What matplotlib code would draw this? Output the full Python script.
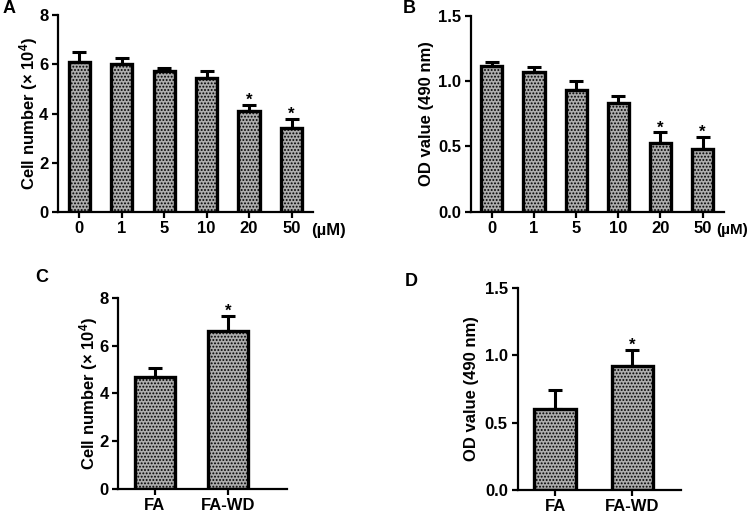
import matplotlib
matplotlib.use("Agg")
import matplotlib.pyplot as plt
import numpy as np

plt.rcParams['font.family'] = ['Liberation Sans', 'DejaVu Sans']
plt.rcParams['font.weight'] = 'bold'
plt.rcParams['mathtext.default'] = 'regular'
plt.rcParams['hatch.color'] = '#707070'
plt.rcParams['hatch.linewidth'] = 0.9

# Panel A
a_labels = ['0', '1', '5', '10', '20', '50']
a_vals = [6.08, 6.00, 5.74, 5.43, 4.09, 3.40]
a_err = [0.41, 0.26, 0.09, 0.31, 0.25, 0.38]
a_sig = [False, False, False, False, True, True]

# Panel B
b_labels = ['0', '1', '5', '10', '20', '50']
b_vals = [1.117, 1.067, 0.936, 0.830, 0.523, 0.482]
b_err = [0.031, 0.043, 0.064, 0.057, 0.084, 0.092]
b_sig = [False, False, False, False, True, True]

# Panel C
c_labels = ['FA', 'FA-WD']
c_vals = [4.69, 6.60]
c_err = [0.37, 0.64]
c_sig = [False, True]

# Panel D
d_labels = ['FA', 'FA-WD']
d_vals = [0.600, 0.919]
d_err = [0.139, 0.121]
d_sig = [False, True]

fig = plt.figure(figsize=(7.5, 5.13), dpi=100)

def panel(rect, labels, vals, errs, sig, ylim, yticks, yfmt, ylabel, ylab_x,
          xlim, width, unit=None, star_off=0.0):
    ax = fig.add_axes(rect)
    x = np.arange(len(vals))
    ax.bar(x, vals, width=width, color='#adadad', edgecolor='black',
           linewidth=2.4, hatch='.....', zorder=2)
    ax.errorbar(x, vals, yerr=[np.zeros(len(vals)), errs], fmt='none',
                ecolor='black', elinewidth=2.2, capsize=5, capthick=2.2, zorder=1)
    for xi, v, e, s in zip(x, vals, errs, sig):
        if s:
            ax.text(xi, v + e + star_off, '*', ha='center', va='bottom',
                    fontsize=12, fontweight='bold')
    ax.set_xlim(*xlim)
    ax.set_ylim(*ylim)
    ax.set_yticks(yticks)
    ax.set_yticklabels([yfmt.format(t) for t in yticks])
    ax.set_xticks(x)
    ax.set_xticklabels(labels)
    for sp in ['top', 'right']:
        ax.spines[sp].set_visible(False)
    for sp in ['left', 'bottom']:
        ax.spines[sp].set_linewidth(1.6)
    ax.tick_params(axis='both', direction='out', length=4.5, width=1.6,
                   labelsize=12, pad=2.5)
    ax.tick_params(axis='x', pad=2)
    for t in ax.get_xticklabels() + ax.get_yticklabels():
        t.set_fontweight('bold')
    ax.set_ylabel(ylabel, fontsize=12, fontweight='bold')
    ax.yaxis.set_label_coords(ylab_x, 0.5)
    if unit:
        ax.text(unit[0], unit[1], unit[2], transform=ax.transAxes,
                ha=unit[3], va='center', fontsize=unit[4], fontweight='bold')
    return ax

cell_lab = 'Cell number (× 10$^{4}$)'
od_lab = 'OD value (490 nm)'

axA = panel([0.0773, 0.5867, 0.3397, 0.3841], a_labels, a_vals, a_err, a_sig,
            (0, 8), [0, 2, 4, 6, 8], '{:g}', cell_lab, -0.069,
            (-0.5, 5.5), 0.5, unit=(1.063, -0.095, '(µM)', 'center', 12), star_off=-0.12)
axB = panel([0.6276, 0.5873, 0.3374, 0.3817], b_labels, b_vals, b_err, b_sig,
            (0, 1.5), [0.0, 0.5, 1.0, 1.5], '{:.1f}', od_lab, -0.144,
            (-0.5, 5.5), 0.5, unit=(1.095, -0.095, '(µM)', 'right', 11), star_off=-0.022)
axC = panel([0.1577, 0.0468, 0.2246, 0.3729], c_labels, c_vals, c_err, c_sig,
            (0, 8), [0, 2, 4, 6, 8], '{:g}', cell_lab, -0.109,
            (-0.5, 1.8), 0.54, star_off=-0.12)
axD = panel([0.690, 0.0455, 0.218, 0.3925], d_labels, d_vals, d_err, d_sig,
            (0, 1.5), [0.0, 0.5, 1.0, 1.5], '{:.1f}', od_lab, -0.237,
            (-0.49, 1.63), 0.54, star_off=-0.022)

for lbl, xx, yy in [('A', 0.004, 0.984), ('B', 0.537, 0.984),
                    ('C', 0.047, 0.46), ('D', 0.54, 0.452)]:
    fig.text(xx, yy, lbl, fontsize=13, fontweight='bold', ha='left', va='center')

fig.savefig('out.png', dpi=100)
